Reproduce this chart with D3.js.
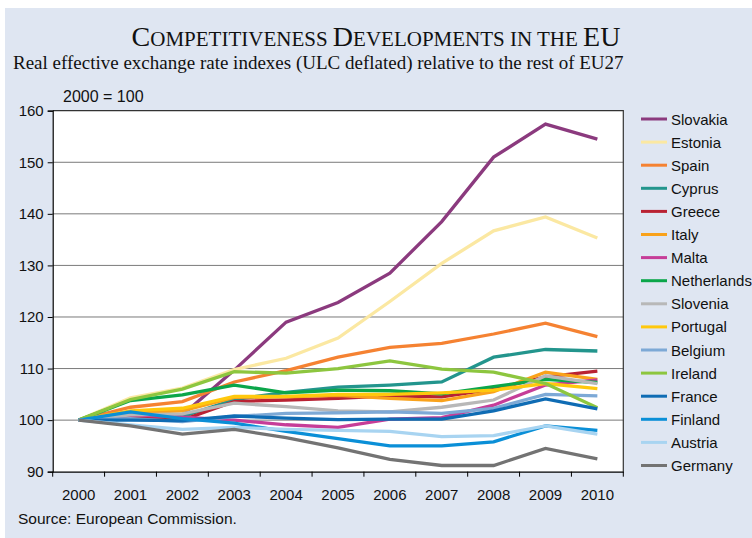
<!DOCTYPE html>
<html><head><meta charset="utf-8">
<script src="https://cdn.jsdelivr.net/npm/d3@7/dist/d3.min.js"></script>
<style>html,body{margin:0;padding:0;background:#fff;}svg{display:block;}</style>
</head><body>
<svg id="chart" width="752" height="538"></svg>
<script>
const years = ["2000","2001","2002","2003","2004","2005","2006","2007","2008","2009","2010"];
const yTicks = [90,100,110,120,130,140,150,160];
const countries = ["Slovakia","Estonia","Spain","Cyprus","Greece","Italy","Malta","Netherlands","Slovenia","Portugal","Belgium","Ireland","France","Finland","Austria","Germany"];
const colors = ["#8b3a7e","#fbe8a2","#f58232","#23958d","#b92233","#f9a21b","#c63d98","#0ba64a","#b8b8b8","#ffc80d","#7da9d6","#8dc63f","#0f6cb4","#0a8fd7","#a8d4f1","#737373"];
const slovakia    = [100,101.2,101.0,109.7,119.0,122.8,128.5,138.5,151.0,157.4,154.5];
const estonia     = [100,104.3,106.2,109.8,112.0,115.9,123.0,130.4,136.7,139.4,135.3];
const spain       = [100,102.5,103.6,107.4,109.6,112.2,114.1,114.9,116.7,118.8,116.2];
const cyprus      = [100,100.8,100.7,104.0,105.4,106.4,106.8,107.4,112.2,113.7,113.4];
const greece      = [100,100.8,100.0,103.6,103.9,104.2,104.7,104.5,106.0,108.4,109.5];
const italy       = [100,101.4,101.8,104.4,104.5,104.8,104.2,103.8,105.5,109.3,107.9];
const malta       = [100,101.0,100.6,100.0,99.1,98.6,100.2,100.5,102.9,106.8,107.8];
const netherlands = [100,103.8,104.9,106.8,105.3,105.8,105.7,105.1,106.5,107.9,107.3];
const slovenia    = [100,101.0,101.2,103.3,102.6,101.8,101.6,102.5,103.9,108.6,107.1];
const portugal    = [100,101.8,102.3,104.6,104.6,105.0,105.0,105.3,105.8,107.1,106.1];
const belgium     = [100,100.3,99.7,100.7,101.3,101.4,101.6,101.3,102.3,105.0,104.7];
const ireland     = [100,104.0,106.0,109.4,109.1,110.0,111.5,109.9,109.3,107.1,102.4];
const france      = [100,100.0,99.9,100.8,100.4,100.1,100.2,100.2,101.8,104.1,102.2];
const finland     = [100,101.6,100.3,99.4,97.8,96.4,95.0,95.0,95.8,98.9,98.0];
const austria     = [100,99.1,98.2,98.6,98.2,98.0,97.8,96.8,97.0,98.9,97.3];
const germany     = [100,98.9,97.3,98.2,96.6,94.6,92.4,91.2,91.2,94.5,92.5];
const series = [slovakia,estonia,spain,cyprus,greece,italy,malta,netherlands,slovenia,portugal,belgium,ireland,france,finland,austria,germany];

const svg = d3.select("#chart");
const bg = "#dfe6f2";
const sans = "'Liberation Sans',Arial,sans-serif";
const serif = "'Liberation Serif','Times New Roman',serif";
svg.append("rect").attr("x",5).attr("y",8).attr("width",747).attr("height",530).attr("fill",bg);

const L = 52.7, R = 623.3, T = 110.7, B = 471.7;
const x = d3.scaleBand().domain(years).range([L,R]).padding(0);
const y = d3.scaleLinear().domain([90,160]).range([B,T]);
const cx = d => x(d) + x.bandwidth()/2;

svg.append("rect").attr("x",L).attr("y",T).attr("width",R-L).attr("height",B-T).attr("fill","#fff");

svg.append("g").selectAll("line").data(yTicks.filter(v=>v>90 && v<160)).join("line")
  .attr("x1",L).attr("x2",R).attr("y1",d=>y(d)).attr("y2",d=>y(d))
  .attr("stroke","#7a7a7a").attr("stroke-width",1);

svg.append("path").attr("d",`M${L},${T}H${R}V${B}`).attr("fill","none").attr("stroke","#333").attr("stroke-width",1.2);

const title = svg.append("text").attr("x",376).attr("y",46).attr("text-anchor","middle")
  .attr("font-family",serif).attr("fill","#111");
const parts = [["C",true],["OMPETITIVENESS ",false],["D",true],["EVELOPMENTS IN THE ",false],["EU",true]];
parts.forEach(([t,big]) => title.append("tspan").attr("font-size", big?28:21).text(t));

svg.append("text").attr("x",13).attr("y",69).attr("font-family",serif)
  .attr("font-size",19).attr("fill","#111").text("Real effective exchange rate indexes (ULC deflated) relative to the rest of EU27");

svg.append("text").attr("x",63).attr("y",102).attr("font-family",sans)
  .attr("font-size",16).attr("fill","#111").text("2000 = 100");

const yAxis = d3.axisLeft(y).tickValues(yTicks).tickSize(5).tickPadding(4).tickFormat(d3.format("d"));
const gy = svg.append("g").attr("transform",`translate(${L},0)`).call(yAxis);
gy.select(".domain").attr("stroke","#000").attr("stroke-width",1.2);
gy.selectAll(".tick line").attr("stroke","#000");
gy.selectAll("text").attr("font-family",sans).attr("font-size",15).attr("fill","#111");

const xAxis = d3.axisBottom(x).tickSize(0).tickPadding(18);
const gx = svg.append("g").attr("transform",`translate(0,${B})`).call(xAxis);
gx.select(".domain").attr("stroke","#000").attr("stroke-width",1.2);
gx.selectAll("text").attr("font-family",sans).attr("font-size",15).attr("fill","#111");
const bounds = years.map(d=>x(d)).concat([x(years[years.length-1])+x.bandwidth()]);
gx.append("g").selectAll("line").data(bounds).join("line")
  .attr("x1",d=>d).attr("x2",d=>d).attr("y1",0).attr("y2",5).attr("stroke","#000").attr("stroke-width",1);

const line = d3.line().x((d,i)=>cx(years[i])).y(d=>y(d));
svg.append("g").selectAll("path").data(series).join("path")
  .attr("d",d=>line(d)).attr("fill","none").attr("stroke",(d,i)=>colors[i])
  .attr("stroke-width",3.3).attr("stroke-linejoin","miter");

const lg = svg.append("g");
countries.forEach((c,i)=>{
  const yy = 119 + i*23.1;
  lg.append("line").attr("x1",641).attr("x2",667).attr("y1",yy).attr("y2",yy).attr("stroke",colors[i]).attr("stroke-width",3);
  lg.append("text").attr("x",671).attr("y",yy+5.5).attr("font-family",sans)
    .attr("font-size",15).attr("fill","#111").text(c);
});

svg.append("text").attr("x",18).attr("y",524).attr("font-family",sans)
  .attr("font-size",15.5).attr("fill","#111").text("Source: European Commission.");
</script>
</body></html>
